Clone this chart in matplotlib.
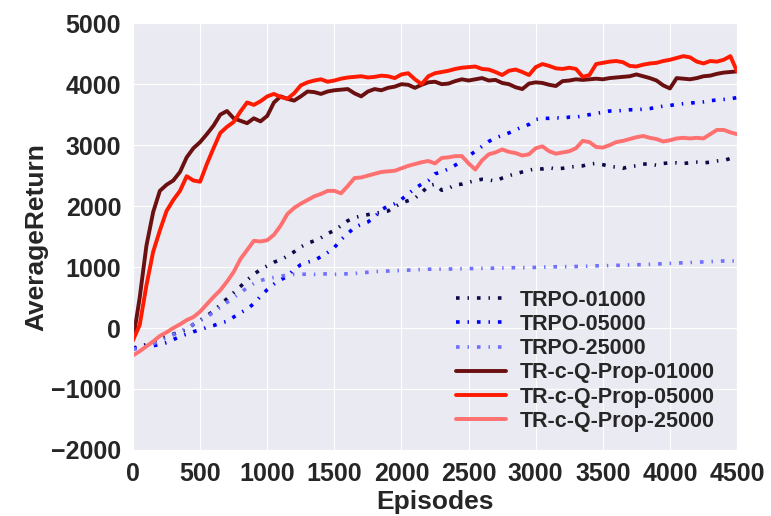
import numpy as np
import matplotlib
matplotlib.use('Agg')
import matplotlib.pyplot as plt
import seaborn as sns

sns.set_style('darkgrid')
plt.rcParams['font.family'] = ['Liberation Sans', 'DejaVu Sans']
plt.rcParams['font.weight'] = 'bold'

# episodes sampled every 50
episodes = list(range(0, 4501, 50))

trpo_01000 = [-330, -300, -270, -230, -170, -140, -100, -60, -30, 60,
              130, 200, 280, 380, 480, 580, 680, 790, 880, 960,
              1020, 1080, 1120, 1180, 1250, 1330, 1390, 1430, 1480, 1550,
              1600, 1680, 1760, 1810, 1840, 1860, 1880, 1900, 1920, 1990,
              2050, 2090, 2130, 2220, 2330, 2360, 2260, 2290, 2350, 2360,
              2390, 2420, 2440, 2430, 2410, 2460, 2500, 2530, 2560, 2590,
              2610, 2610, 2630, 2610, 2620, 2640, 2650, 2660, 2690, 2700,
              2680, 2650, 2640, 2620, 2650, 2660, 2690, 2690, 2670, 2700,
              2710, 2710, 2700, 2710, 2720, 2710, 2720, 2740, 2750, 2780,
              2790]
trpo_05000 = [-330, -320, -300, -290, -270, -240, -190, -140, -100, -60,
              -30, 10, 40, 80, 110, 180, 250, 310, 400, 520,
              630, 720, 790, 850, 960, 1040, 1080, 1110, 1170, 1240,
              1320, 1450, 1550, 1650, 1700, 1740, 1820, 1940, 2000, 2040,
              2110, 2200, 2290, 2360, 2420, 2530, 2560, 2610, 2670, 2740,
              2820, 2900, 2980, 3060, 3120, 3160, 3200, 3250, 3300, 3340,
              3420, 3440, 3440, 3450, 3440, 3460, 3460, 3480, 3500, 3520,
              3540, 3560, 3560, 3570, 3580, 3580, 3590, 3600, 3620, 3640,
              3650, 3670, 3680, 3690, 3700, 3710, 3730, 3740, 3750, 3760,
              3780]
trpo_25000 = [-350, -330, -300, -260, -210, -160, -110, -60, 0, 60,
              120, 180, 260, 340, 420, 500, 580, 660, 730, 780,
              810, 830, 850, 870, 880, 880, 885, 880, 885, 890,
              880, 885, 890, 895, 905, 915, 925, 930, 935, 940,
              945, 950, 955, 960, 965, 965, 965, 968, 970, 972,
              975, 975, 978, 980, 982, 985, 988, 990, 990, 992,
              995, 1000, 1000, 1005, 1005, 1008, 1010, 1012, 1015, 1020,
              1022, 1025, 1028, 1030, 1035, 1038, 1040, 1045, 1050, 1055,
              1060, 1065, 1070, 1075, 1080, 1085, 1090, 1095, 1100, 1100,
              1100]
qprop_01000 = [-200, 500, 1350, 1900, 2250, 2350, 2420, 2560, 2800, 2950,
               3050, 3180, 3320, 3500, 3560, 3440, 3400, 3360, 3440, 3390,
               3480, 3700, 3800, 3760, 3730, 3800, 3880, 3870, 3840, 3880,
               3900, 3910, 3920, 3850, 3800, 3880, 3920, 3900, 3940, 3960,
               4000, 3990, 3940, 3990, 4030, 4040, 4000, 4010, 4050, 4080,
               4060, 4080, 4100, 4060, 4070, 4020, 4000, 3950, 3920, 4010,
               4030, 4020, 3990, 3970, 4050, 4060, 4080, 4070, 4080, 4090,
               4080, 4100, 4110, 4120, 4130, 4160, 4130, 4100, 4060, 3980,
               3930, 4100, 4090, 4080, 4100, 4130, 4140, 4170, 4190, 4200,
               4210]
qprop_05000 = [-200, 50, 700, 1250, 1600, 1920, 2100, 2250, 2490, 2420,
               2400, 2690, 2950, 3200, 3300, 3380, 3550, 3700, 3660, 3720,
               3800, 3840, 3790, 3760, 3850, 3980, 4030, 4060, 4080, 4040,
               4060, 4090, 4110, 4120, 4130, 4110, 4120, 4140, 4130, 4100,
               4160, 4180, 4080, 4000, 4130, 4180, 4200, 4220, 4250, 4270,
               4280, 4290, 4250, 4240, 4200, 4150, 4220, 4240, 4200, 4150,
               4280, 4330, 4300, 4260, 4250, 4270, 4250, 4120, 4150, 4330,
               4350, 4370, 4380, 4360, 4300, 4290, 4320, 4340, 4350, 4380,
               4400, 4430, 4460, 4440, 4370, 4340, 4380, 4370, 4400, 4460,
               4210]
qprop_25000 = [-450, -380, -300, -220, -130, -70, 0, 60, 130, 180,
               270, 390, 510, 620, 760, 920, 1130, 1280, 1430, 1420,
               1440, 1530, 1680, 1870, 1970, 2040, 2100, 2160, 2200, 2250,
               2250, 2210, 2330, 2460, 2470, 2500, 2530, 2560, 2570, 2580,
               2620, 2660, 2690, 2720, 2740, 2700, 2790, 2800, 2820, 2820,
               2700, 2600, 2750, 2850, 2880, 2930, 2890, 2870, 2830, 2850,
               2950, 2980, 2900, 2860, 2880, 2900, 2950, 3070, 3050, 2970,
               2960, 3000, 3050, 3070, 3100, 3130, 3150, 3120, 3100, 3060,
               3080, 3110, 3120, 3110, 3120, 3110, 3180, 3250, 3250, 3210,
               3180]

fig = plt.figure(figsize=(7.71, 5.16), dpi=100)
ax = fig.add_axes([0.1725, 0.128, 0.7835, 0.827])

dots = (0, (1.0, 2.2, 0.4, 2.2))
ax.plot(episodes, trpo_01000, color='#0b0b4a', lw=2.6, linestyle=dots, label='TRPO-01000')
ax.plot(episodes, trpo_05000, color='#0000ff', lw=2.6, linestyle=dots, label='TRPO-05000')
ax.plot(episodes, trpo_25000, color='#7070ff', lw=2.6, linestyle=dots, label='TRPO-25000')
ax.plot(episodes, qprop_01000, color='#6b1010', lw=2.8, label='TR-c-Q-Prop-01000')
ax.plot(episodes, qprop_05000, color='#ff1a00', lw=2.8, label='TR-c-Q-Prop-05000')
ax.plot(episodes, qprop_25000, color='#ff7070', lw=2.8, label='TR-c-Q-Prop-25000')

ax.set_xlim(0, 4500)
ax.set_ylim(-2000, 5000)
ax.set_xticks(range(0, 4501, 500))
ax.set_yticks(range(-2000, 5001, 1000))
ax.tick_params(labelsize=18, colors='#262626', pad=5)
for t in ax.get_xticklabels() + ax.get_yticklabels():
    t.set_fontweight('bold')
ax.set_xlabel('Episodes', fontsize=19, fontweight='bold', labelpad=3)
ax.set_ylabel('AverageReturn', fontsize=19, fontweight='bold', labelpad=2)

leg = ax.legend(loc='lower left', bbox_to_anchor=(0.51, 0.007), frameon=False,
                fontsize=15.5, handlelength=2.3, handletextpad=0.65,
                labelspacing=0.15, borderpad=0.2)
for t in leg.get_texts():
    t.set_fontweight('bold')

fig.savefig('out.png', dpi=100)
